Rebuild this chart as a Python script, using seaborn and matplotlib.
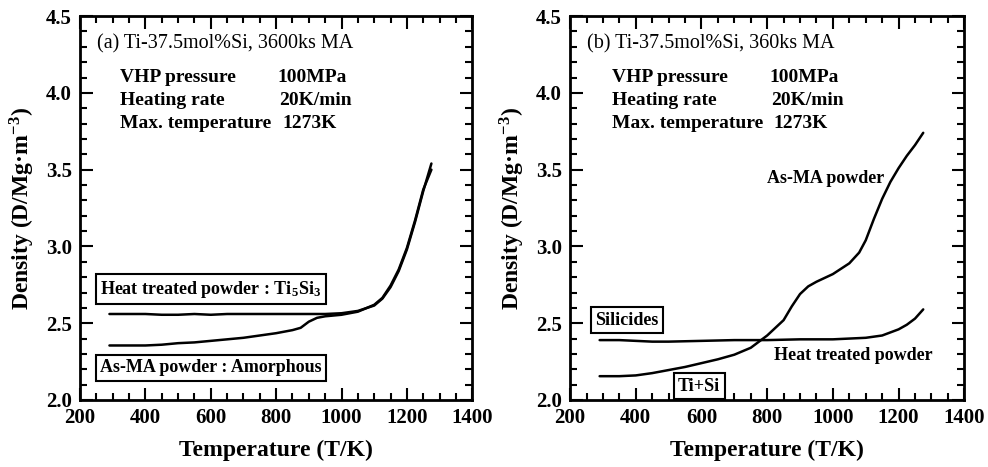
import matplotlib
matplotlib.use("Agg")
import matplotlib.pyplot as plt
import seaborn as sns
import pandas as pd
from matplotlib.ticker import MultipleLocator

# ---- data (a) ----
T_a_ht = [290, 350, 400, 450, 500, 550, 600, 650, 700, 750, 800, 850, 900, 950,
          1000, 1050, 1100, 1125, 1150, 1175, 1200, 1225, 1250, 1275]
D_a_ht = [2.56, 2.56, 2.56, 2.555, 2.555, 2.56, 2.555, 2.56, 2.56, 2.56, 2.56, 2.56,
          2.56, 2.56, 2.565, 2.58, 2.615, 2.66, 2.735, 2.84, 2.98, 3.16, 3.36, 3.54]
T_a_ma = [290, 350, 400, 450, 500, 550, 600, 650, 700, 750, 800, 850, 875, 900,
          925, 950, 1000, 1050, 1100, 1125, 1150, 1175, 1200, 1225, 1250, 1275]
D_a_ma = [2.355, 2.355, 2.355, 2.36, 2.37, 2.375, 2.385, 2.395, 2.405, 2.42, 2.435,
          2.455, 2.47, 2.51, 2.535, 2.545, 2.555, 2.575, 2.62, 2.665, 2.745, 2.85,
          2.99, 3.17, 3.37, 3.50]

# ---- data (b) ----
T_b_ma = [290, 350, 400, 450, 500, 550, 600, 650, 700, 750, 800, 825, 850, 875,
          900, 925, 950, 1000, 1050, 1080, 1100, 1125, 1150, 1175, 1200, 1225, 1250, 1275]
D_b_ma = [2.155, 2.155, 2.16, 2.175, 2.195, 2.215, 2.24, 2.265, 2.295, 2.34, 2.42,
          2.47, 2.52, 2.61, 2.69, 2.74, 2.77, 2.82, 2.89, 2.96, 3.04, 3.18, 3.31,
          3.42, 3.51, 3.59, 3.66, 3.74]
T_b_ht = [290, 350, 400, 450, 500, 600, 700, 800, 900, 1000, 1050, 1100, 1150,
          1175, 1200, 1225, 1250, 1275]
D_b_ht = [2.39, 2.39, 2.385, 2.38, 2.38, 2.385, 2.39, 2.39, 2.395, 2.395, 2.40,
          2.405, 2.42, 2.44, 2.46, 2.49, 2.53, 2.59]

xticks = [200, 400, 600, 800, 1000, 1200, 1400]
yticks = [2.0, 2.5, 3.0, 3.5, 4.0, 4.5]

sns.set_theme(style="ticks")
plt.rcParams['font.family'] = ['Liberation Serif', 'DejaVu Serif']
plt.rcParams['mathtext.fontset'] = 'stix'
plt.rcParams['text.color'] = 'black'
plt.rcParams['axes.labelcolor'] = 'black'
plt.rcParams['xtick.color'] = 'black'
plt.rcParams['ytick.color'] = 'black'

fig = plt.figure(figsize=(9.88, 4.67), dpi=100)
ax1 = fig.add_axes([0.081, 0.1435, 0.397, 0.822])
ax2 = fig.add_axes([0.577, 0.1435, 0.399, 0.822])

df_a = pd.concat([
    pd.DataFrame({'T': T_a_ht, 'D': D_a_ht, 's': 'ht'}),
    pd.DataFrame({'T': T_a_ma, 'D': D_a_ma, 's': 'ma'}),
])
df_b = pd.concat([
    pd.DataFrame({'T': T_b_ht, 'D': D_b_ht, 's': 'ht'}),
    pd.DataFrame({'T': T_b_ma, 'D': D_b_ma, 's': 'ma'}),
])

for ax, df in ((ax1, df_a), (ax2, df_b)):
    sns.lineplot(data=df, x='T', y='D', units='s', estimator=None, sort=False,
                 color='black', lw=1.8, ax=ax, legend=False)
    ax.set_xlim(200, 1400)
    ax.set_ylim(2.0, 4.5)
    ax.set_xticks(xticks)
    ax.set_yticks(yticks)
    ax.set_xticklabels([str(t) for t in xticks])
    ax.set_yticklabels([f"{t:.1f}" for t in yticks])
    ax.xaxis.set_minor_locator(MultipleLocator(50))
    ax.yaxis.set_minor_locator(MultipleLocator(0.1))
    ax.tick_params(which='both', direction='in', top=True, right=True,
                   width=1.5, colors='black', labelcolor='black')
    ax.tick_params(which='major', length=9, labelsize=15, pad=6)
    ax.tick_params(which='minor', length=5)
    for lab in ax.get_xticklabels() + ax.get_yticklabels():
        lab.set_fontweight('bold')
    for sp in ax.spines.values():
        sp.set_visible(True)
        sp.set_linewidth(2.0)
        sp.set_color('black')
    ax.set_xlabel('Temperature (T/K)', fontsize=17, fontweight='bold', labelpad=8,
                  color='black')
    ax.set_ylabel('Density (D/Mg·m$^\\mathregular{-3}$)', fontsize=17,
                  fontweight='bold', labelpad=6, color='black')

fs = 14
fw = 'bold'
# panel (a) texts
ax1.text(252, 4.32, '(a) Ti-37.5mol%Si, 3600ks MA', fontsize=14.5, va='center')
for y, l, r, xr in ((4.10, 'VHP pressure', '100MPa', 803),
                    (3.95, 'Heating rate', '20K/min', 810),
                    (3.80, 'Max. temperature', '1273K', 820)):
    ax1.text(322, y, l, fontsize=fs, fontweight=fw, va='center')
    ax1.text(xr, y, r, fontsize=fs, fontweight=fw, va='center')
box = dict(boxstyle='square,pad=0.25', fc='white', ec='black', lw=1.5)
ax1.text(262, 2.72, 'Heat treated powder : Ti$_\\mathregular{5}$Si$_\\mathregular{3}$',
         fontsize=13, fontweight=fw, va='center', bbox=box)
ax1.text(262, 2.21, 'As-MA powder : Amorphous', fontsize=13, fontweight=fw,
         va='center', bbox=box)

# panel (b) texts
ax2.text(252, 4.32, '(b) Ti-37.5mol%Si, 360ks MA', fontsize=14.5, va='center')
for y, l, r, xr in ((4.10, 'VHP pressure', '100MPa', 806),
                    (3.95, 'Heating rate', '20K/min', 812),
                    (3.80, 'Max. temperature', '1273K', 818)):
    ax2.text(328, y, l, fontsize=fs, fontweight=fw, va='center')
    ax2.text(xr, y, r, fontsize=fs, fontweight=fw, va='center')
ax2.text(977, 3.44, 'As-MA powder', fontsize=13, fontweight=fw, va='center',
         ha='center')
ax2.text(1062, 2.29, 'Heat treated powder', fontsize=13, fontweight=fw,
         va='center', ha='center')
ax2.text(276, 2.52, 'Silicides', fontsize=13, fontweight=fw, va='center', bbox=box)
ax2.text(593, 2.09, 'Ti+Si', fontsize=13, fontweight=fw, va='center', ha='center',
         bbox=box)

fig.savefig('out.png', dpi=100)
